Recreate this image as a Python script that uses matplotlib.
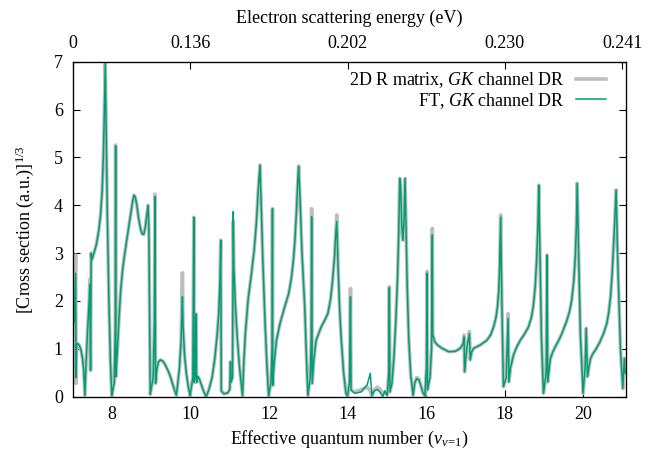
import matplotlib
matplotlib.use("Agg")
import matplotlib.pyplot as plt

plt.rcParams['font.family'] = ['Liberation Serif', 'DejaVu Serif']
plt.rcParams['mathtext.fontset'] = 'custom'
plt.rcParams['mathtext.rm'] = 'Liberation Serif'
plt.rcParams['mathtext.it'] = 'Liberation Serif:italic'
plt.rcParams['font.size'] = 13

# Effective quantum number grid
nu = [7.04, 7.075, 7.085, 7.10, 7.13, 7.17, 7.21, 7.25, 7.28, 7.31,
      7.34, 7.38, 7.42, 7.435, 7.455, 7.47, 7.49, 7.54, 7.60, 7.66,
      7.71, 7.75, 7.78, 7.805, 7.83, 7.85, 7.88, 7.92, 7.96, 7.995,
      8.06, 8.085, 8.093, 8.10, 8.13, 8.17, 8.22, 8.28, 8.35, 8.42,
      8.48, 8.53, 8.56, 8.59, 8.63, 8.68, 8.73, 8.77, 8.81, 8.85,
      8.89, 8.92, 8.94, 8.975, 9.05, 9.08, 9.095, 9.11, 9.14, 9.18,
      9.23, 9.30, 9.36, 9.42, 9.48, 9.55, 9.60, 9.64, 9.68, 9.72,
      9.76, 9.795, 9.81, 9.85, 9.90, 9.95, 9.99, 10.06, 10.085, 10.095,
      10.12, 10.145, 10.155, 10.19, 10.23, 10.28, 10.34, 10.40, 10.47, 10.55,
      10.62, 10.68, 10.72, 10.75, 10.77, 10.785, 10.85, 10.95, 11.00, 11.02,
      11.03, 11.07, 11.09, 11.105, 11.14, 11.19, 11.25, 11.326, 11.36, 11.40,
      11.47, 11.55, 11.62, 11.68, 11.72, 11.77, 11.80, 11.84, 11.90, 11.95,
      11.99, 12.05, 12.08, 12.088, 12.095, 12.13, 12.19, 12.28, 12.40, 12.50,
      12.57, 12.62, 12.66, 12.70, 12.73, 12.755, 12.79, 12.84, 12.91, 12.95,
      12.99, 13.05, 13.075, 13.085, 13.10, 13.14, 13.20, 13.33, 13.42, 13.50,
      13.57, 13.62, 13.67, 13.69, 13.725, 13.76, 13.80, 13.84, 13.90, 13.96,
      14.00, 14.05, 14.075, 14.09, 14.18, 14.35, 14.50, 14.58, 14.62, 14.68,
      14.76, 14.84, 14.90, 14.95, 15.01, 15.05, 15.065, 15.08, 15.13, 15.18,
      15.23, 15.27, 15.30, 15.33, 15.35, 15.38, 15.41, 15.44, 15.465, 15.49,
      15.52, 15.56, 15.61, 15.67, 15.71, 15.76, 15.82, 15.87, 15.92, 15.97,
      16.01, 16.025, 16.035, 16.10, 16.14, 16.16, 16.17, 16.22, 16.29, 16.41,
      16.58, 16.75, 16.87, 16.94, 16.97, 16.98, 17.04, 17.105, 17.125, 17.16,
      17.21, 17.38, 17.55, 17.65, 17.72, 17.78, 17.82, 17.85, 17.87, 17.90,
      17.93, 17.97, 18.04, 18.09, 18.11, 18.15, 18.23, 18.31, 18.40, 18.50,
      18.61, 18.68, 18.73, 18.78, 18.82, 18.85, 18.87, 18.90, 18.94, 18.99,
      19.06, 19.08, 19.10, 19.16, 19.22, 19.29, 19.38, 19.46, 19.59, 19.66,
      19.71, 19.76, 19.80, 19.83, 19.85, 19.88, 19.93, 20.00, 20.05, 20.08,
      20.11, 20.18, 20.24, 20.31, 20.42, 20.52, 20.60, 20.65, 20.70, 20.74,
      20.79, 20.84, 20.88, 20.95, 21.01, 21.05, 21.07]

# 2D R-matrix result, [cross section]^(1/3)
sigma_rmatrix = [1.55, 2.96, 0.28, 1.08, 1.11, 1.07, 0.98, 0.80, 0.55, 0.03,
                 0.70, 1.40, 2.00, 2.45, 0.55, 3.00, 2.86, 3.00, 3.17, 3.45,
                 3.80, 4.30, 5.00, 5.90, 6.96, 5.70, 3.90, 2.10, 0.75, 0.02,
                 0.30, 1.50, 5.26, 0.42, 0.85, 1.50, 2.20, 2.72, 3.13, 3.50,
                 3.83, 4.10, 4.21, 4.18, 4.02, 3.72, 3.50, 3.40, 3.39, 3.55,
                 3.80, 4.00, 3.50, 0.05, 0.40, 1.50, 4.23, 0.28, 0.55, 0.72,
                 0.77, 0.74, 0.66, 0.56, 0.44, 0.25, 0.12, 0.03, 0.30, 0.62,
                 1.17, 2.59, 1.50, 0.85, 0.45, 0.18, 0.02, 0.40, 3.75, 0.30,
                 0.45, 1.73, 0.30, 0.42, 0.36, 0.24, 0.10, 0.00, 0.15, 0.40,
                 0.80, 1.30, 1.75, 2.40, 3.27, 0.12, 0.06, 0.08, 0.15, 0.73,
                 0.30, 0.40, 3.66, 2.70, 1.95, 1.25, 0.60, 0.02, 0.75, 1.35,
                 2.05, 2.55, 3.05, 3.65, 4.25, 4.84, 4.05, 2.90, 1.53, 0.60,
                 0.02, 0.30, 1.00, 3.93, 0.24, 0.70, 1.18, 1.53, 1.88, 2.15,
                 2.48, 2.85, 3.27, 3.90, 4.45, 4.82, 4.15, 3.00, 1.88, 0.90,
                 0.03, 0.40, 1.20, 3.93, 0.28, 0.75, 1.18, 1.46, 1.60, 1.74,
                 2.05, 2.44, 2.95, 3.27, 3.80, 2.70, 1.80, 1.20, 0.50, 0.07,
                 0.01, 0.30, 2.26, 0.14, 0.10, 0.15, 0.20, 0.12, 0.00, 0.15,
                 0.20, 0.15, 0.05, 0.10, 0.05, 0.50, 2.30, 0.10, 0.28, 0.80,
                 1.60, 2.40, 3.30, 4.56, 4.45, 3.60, 3.27, 3.70, 4.56, 3.50,
                 2.30, 1.20, 0.45, 0.03, 0.28, 0.40, 0.37, 0.22, 0.08, 0.02,
                 0.60, 2.62, 0.14, 0.40, 1.00, 3.52, 1.30, 1.15, 1.08, 1.01,
                 0.94, 0.95, 1.01, 1.10, 1.29, 0.52, 1.04, 1.36, 0.77, 0.93,
                 1.01, 1.08, 1.18, 1.30, 1.46, 1.65, 1.88, 2.20, 2.60, 3.80,
                 2.00, 0.21, 0.40, 1.74, 0.31, 0.60, 0.88, 1.04, 1.18, 1.30,
                 1.46, 1.65, 1.88, 2.30, 2.92, 3.60, 4.42, 3.00, 1.20, 0.07,
                 0.50, 2.96, 0.31, 0.77, 0.92, 1.04, 1.18, 1.32, 1.60, 1.80,
                 2.02, 2.40, 2.92, 3.60, 4.46, 3.20, 1.30, 0.07, 0.60, 1.43,
                 0.42, 0.77, 0.89, 0.97, 1.13, 1.32, 1.52, 1.74, 2.10, 2.58,
                 3.40, 4.32, 2.90, 1.00, 0.17, 0.80, 0.50]

# FT result, [cross section]^(1/3)
sigma_ft = [1.55, 2.58, 0.40, 1.08, 1.11, 1.07, 0.98, 0.80, 0.55, 0.03,
            0.70, 1.40, 2.00, 2.35, 0.55, 3.00, 2.86, 3.00, 3.17, 3.45,
            3.80, 4.30, 5.00, 5.90, 6.96, 5.70, 3.90, 2.10, 0.75, 0.02,
            0.30, 1.50, 5.24, 0.42, 0.85, 1.50, 2.20, 2.72, 3.13, 3.50,
            3.83, 4.10, 4.21, 4.18, 4.02, 3.72, 3.50, 3.40, 3.39, 3.55,
            3.80, 4.00, 3.50, 0.05, 0.40, 1.50, 4.18, 0.28, 0.55, 0.72,
            0.77, 0.74, 0.66, 0.56, 0.44, 0.25, 0.12, 0.03, 0.30, 0.62,
            1.17, 2.09, 1.50, 0.85, 0.45, 0.18, 0.02, 0.40, 3.75, 0.30,
            0.45, 1.73, 0.30, 0.42, 0.36, 0.24, 0.10, 0.00, 0.15, 0.40,
            0.80, 1.30, 1.75, 2.40, 3.27, 0.12, 0.06, 0.08, 0.15, 0.73,
            0.30, 0.40, 3.87, 2.70, 1.95, 1.25, 0.60, 0.02, 0.75, 1.35,
            2.05, 2.55, 3.05, 3.65, 4.25, 4.84, 4.05, 2.90, 1.53, 0.60,
            0.02, 0.30, 1.00, 3.93, 0.24, 0.70, 1.18, 1.53, 1.88, 2.15,
            2.48, 2.85, 3.27, 3.90, 4.45, 4.82, 4.15, 3.00, 1.88, 0.90,
            0.03, 0.40, 1.20, 3.76, 0.28, 0.75, 1.18, 1.46, 1.60, 1.74,
            2.05, 2.44, 2.95, 3.27, 3.66, 2.70, 1.80, 1.20, 0.50, 0.07,
            0.01, 0.30, 2.09, 0.14, 0.07, 0.10, 0.25, 0.49, 0.03, 0.12,
            0.15, 0.08, 0.00, 0.12, 0.02, 0.50, 2.28, 0.10, 0.28, 0.80,
            1.60, 2.40, 3.30, 4.56, 4.45, 3.60, 3.27, 3.70, 4.56, 3.50,
            2.30, 1.20, 0.45, 0.03, 0.28, 0.38, 0.35, 0.22, 0.08, 0.02,
            0.60, 2.58, 0.14, 0.40, 1.00, 3.38, 1.30, 1.15, 1.08, 1.01,
            0.94, 0.95, 1.01, 1.10, 1.25, 0.52, 1.04, 1.32, 0.77, 0.93,
            1.01, 1.08, 1.18, 1.30, 1.46, 1.65, 1.88, 2.20, 2.60, 3.75,
            2.00, 0.21, 0.40, 1.64, 0.31, 0.60, 0.88, 1.04, 1.18, 1.30,
            1.46, 1.65, 1.88, 2.30, 2.92, 3.60, 4.42, 3.00, 1.20, 0.07,
            0.50, 2.96, 0.31, 0.77, 0.92, 1.04, 1.18, 1.32, 1.60, 1.80,
            2.02, 2.40, 2.92, 3.60, 4.46, 3.20, 1.30, 0.07, 0.60, 1.43,
            0.42, 0.77, 0.89, 0.97, 1.13, 1.32, 1.52, 1.74, 2.10, 2.58,
            3.40, 4.32, 2.90, 1.00, 0.17, 0.80, 0.50]

bottom_ticks = [8, 10, 12, 14, 16, 18, 20]
y_ticks = [0, 1, 2, 3, 4, 5, 6, 7]
energy_tick_pos = [7, 10, 14, 18, 21]
energy_tick_labels = ['0', '0.136', '0.202', '0.230', '0.241']

W, H = 655, 451
fig = plt.figure(figsize=(W / 100, H / 100), dpi=100)
ax = fig.add_axes([72.7 / W, 1 - 396.7 / H, (626.3 - 72.7) / W, (396.7 - 61.7) / H])

ax.plot(nu, sigma_rmatrix, color='#bebebe', lw=2.6,
        label='2D R matrix, $GK$ channel DR', zorder=2)
ax.plot(nu, sigma_ft, color='#009e73', lw=1.1,
        label='FT, $GK$ channel DR', zorder=3)

ax.set_xlim(7, 21.1)
ax.set_ylim(0, 7)
ax.set_xticks(bottom_ticks)
ax.set_yticks(y_ticks)
ax.tick_params(axis='both', direction='in', length=5, width=0.8, labelsize=13)
ax.tick_params(axis='x', pad=7)
ax.tick_params(axis='y', pad=7, right=True)
ax.set_xlabel(r'Effective quantum number ($\nu_{v\!=\!1}$)', fontsize=13, labelpad=4)
ax.set_ylabel(r'[Cross section (a.u.)]$^{1/3}$', fontsize=13, labelpad=13)
for s in ax.spines.values():
    s.set_linewidth(0.9)

ax2 = ax.twiny()
ax2.set_xlim(ax.get_xlim())
ax2.set_xticks(energy_tick_pos)
ax2.set_xticklabels(energy_tick_labels)
ax2.tick_params(axis='x', direction='in', length=5, width=0.8, labelsize=13, pad=7)
ax2.set_xlabel('Electron scattering energy (eV)', fontsize=13, labelpad=9)

leg = ax.legend(loc='upper right', bbox_to_anchor=(606 / W, 1 - 70 / H),
                bbox_transform=fig.transFigure, frameon=False, markerfirst=False,
                fontsize=13, handlelength=1.65, handletextpad=0.6,
                labelspacing=0.05, borderpad=0, borderaxespad=0)

fig.savefig('out.png', dpi=100)
